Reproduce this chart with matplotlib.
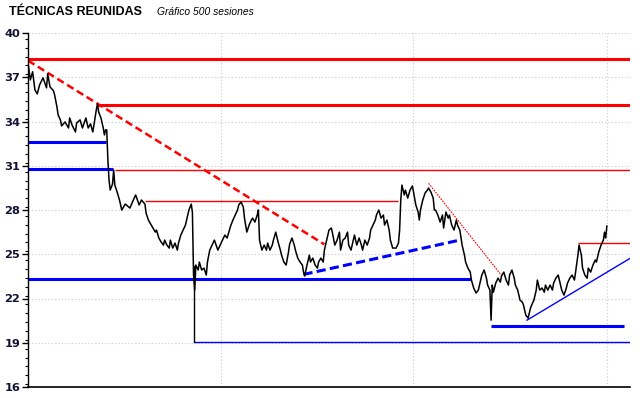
import matplotlib
matplotlib.use("Agg")
import matplotlib.pyplot as plt
from matplotlib.ticker import MultipleLocator

# ---- data (session index, closing price) ----
sessions = [0, 2, 4, 6, 8, 10, 13, 16, 17, 19, 22, 23, 25, 26, 28, 29, 32, 35, 36, 38,
            41, 42, 45, 47, 50, 52, 54, 56, 59, 60, 61, 63, 65, 66, 67, 68, 69, 70, 71, 73,
            74, 75, 77, 79, 81, 84, 85, 88, 91, 93, 96, 98, 101, 102, 104, 105, 108, 110, 111, 113,
            115, 117, 118, 120, 122, 123, 125, 127, 129, 130, 132, 134, 136, 137, 139, 141, 142, 143, 144, 145,
            147, 148, 150, 152, 154, 155, 157, 159, 161, 164, 166, 168, 170, 172, 174, 175, 177, 179, 181, 182,
            184, 186, 187, 189, 191, 193, 194, 196, 198, 199, 200, 202, 204, 206, 207, 209, 211, 212, 214, 216,
            218, 219, 221, 223, 225, 226, 228, 230, 231, 233, 235, 237, 238, 239, 241, 243, 244, 246, 248, 250,
            251, 253, 255, 256, 258, 260, 262, 263, 265, 267, 269, 270, 272, 274, 276, 277, 279, 281, 282, 284,
            286, 288, 289, 291, 293, 295, 296, 298, 300, 301, 303, 305, 307, 308, 310, 312, 313, 315, 318, 320,
            321, 322, 323, 325, 326, 328, 330, 332, 333, 335, 337, 338, 339, 341, 343, 345, 346, 348, 350, 351,
            352, 354, 356, 358, 359, 361, 363, 364, 366, 368, 370, 371, 373, 375, 377, 378, 380, 382, 383, 385,
            387, 389, 390, 392, 394, 396, 397, 399, 400, 401, 402, 404, 406, 408, 409, 411, 413, 415, 416, 418,
            420, 421, 423, 425, 427, 428, 430, 432, 434, 435, 437, 439, 440, 442, 444, 446, 447, 449, 451, 453,
            454, 456, 458, 459, 461, 463, 465, 466, 468, 470, 472, 473, 475, 476, 478, 479, 481, 483, 484, 486,
            488, 490, 491, 493, 495, 497, 498, 499, 500]
prices = [37.98, 36.82, 37.37, 36.14, 35.87, 36.48, 36.96, 36.28, 37.23, 36.35, 36.08, 35.80, 34.99, 34.45, 34.11, 33.70, 33.97, 33.56, 34.24, 33.77,
          33.29, 33.90, 34.11, 33.56, 34.24, 33.56, 33.84, 33.29, 34.79, 35.19, 34.65, 34.24, 33.56, 33.09, 33.43, 33.43, 31.39, 30.03, 29.35, 29.76,
          30.71, 29.69, 29.22, 28.68, 28.00, 28.40, 28.34, 28.13, 28.68, 29.02, 28.34, 28.68, 28.40, 27.79, 27.32, 27.18, 26.78, 26.50, 26.64, 26.10,
          25.83, 25.62, 25.96, 25.62, 25.42, 25.96, 25.42, 25.76, 25.28, 25.76, 26.30, 26.64, 26.98, 27.32, 28.00, 28.40, 27.86, 23.59, 22.57, 24.27,
          23.93, 24.47, 23.93, 24.06, 23.59, 24.47, 25.28, 25.62, 25.96, 25.28, 25.62, 25.96, 26.30, 26.10, 26.64, 26.91, 27.32, 27.66, 28.00, 28.34,
          28.54, 28.20, 27.45, 26.50, 26.98, 27.32, 27.45, 27.18, 27.66, 28.00, 25.96, 25.28, 25.62, 25.28, 25.76, 25.28, 25.62, 25.96, 26.50, 25.83,
          25.28, 24.94, 24.47, 24.27, 25.15, 25.69, 26.10, 25.62, 25.28, 24.74, 24.47, 24.27, 23.79, 23.52, 24.27, 24.94, 24.47, 24.74, 24.27, 24.06,
          24.47, 24.74, 24.47, 25.28, 25.96, 26.64, 26.78, 26.44, 25.62, 25.96, 26.50, 25.28, 25.96, 26.10, 26.50, 25.62, 25.28, 25.96, 26.30, 25.62,
          26.10, 25.62, 25.28, 25.96, 25.62, 26.10, 26.64, 26.98, 27.32, 27.66, 28.00, 27.45, 27.66, 26.98, 27.32, 26.64, 25.96, 25.42, 25.42, 25.76,
          26.64, 28.68, 29.69, 29.02, 29.35, 28.81, 29.35, 29.63, 29.22, 28.34, 27.86, 27.32, 28.00, 28.68, 29.15, 29.35, 29.49, 29.22, 28.81, 28.00,
          28.00, 27.66, 27.18, 27.66, 26.78, 27.86, 27.45, 27.66, 26.98, 26.64, 27.32, 26.98, 26.64, 25.62, 24.94, 24.47, 24.06, 23.79, 23.25, 22.71,
          22.37, 22.57, 22.91, 23.59, 23.93, 23.38, 22.91, 22.57, 20.53, 22.91, 22.43, 23.04, 23.38, 23.11, 23.52, 23.79, 23.25, 22.91, 23.59, 23.93,
          23.38, 22.91, 22.57, 21.89, 21.75, 21.55, 20.87, 20.67, 21.34, 21.55, 21.89, 22.57, 23.25, 22.57, 22.71, 22.43, 22.91, 22.57, 22.91, 22.57,
          23.04, 23.38, 23.59, 23.25, 22.57, 22.23, 22.71, 23.04, 23.38, 23.59, 23.25, 23.79, 24.94, 25.62, 24.94, 24.06, 23.59, 23.38, 24.06, 23.79,
          24.27, 24.61, 24.47, 25.15, 25.62, 25.96, 26.50, 26.10, 26.91]

yticks = [16, 19, 22, 25, 28, 31, 34, 37, 40]
title_text = "TÉCNICAS REUNIDAS"
subtitle_text = "Gráfico 500 sesiones"

# horizontal support / resistance levels: (level, start, end, colour, width)
x_end = 520
levels = [
    (38.25, 0, x_end, "#ff0000", 2.2),
    (35.13, 60, x_end, "#ff0000", 2.2),
    (32.63, 0, 67, "#0000ff", 2.2),
    (30.78, 0, 73, "#0000ff", 2.2),
    (30.70, 75, x_end, "#ff0000", 1.0),
    (28.60, 101, 320, "#ff0000", 1.0),
    (23.30, 0, 383, "#0000ff", 2.2),
    (19.08, 143, x_end, "#0000ff", 1.0),
    (20.12, 400, 515, "#0000ff", 2.2),
    (25.74, 475, x_end, "#ff0000", 1.0),
]
gap_marker = (143, 19.08, 24.2)
# trend lines: (x0, y0, x1, y1, colour, width, style)
trends = [
    (0, 38.13, 256, 25.67, "#ff0000", 1.8, (0, (3, 1.6))),
    (238, 23.63, 373, 25.96, "#0000ff", 2.2, (0, (3, 1.4))),
    (346, 29.81, 410, 23.47, "#ff0000", 0.8, (0, (1.5, 1))),
    (431, 20.53, 520, 24.72, "#0000ff", 1.0, "-"),
]
vgrid = [167, 332.5, 500]

fig = plt.figure(figsize=(6.4, 3.98), dpi=100)
ax = fig.add_axes([28 / 640, 1 - 387 / 398, (630 - 28) / 640, (387 - 33) / 398])

for y in yticks[1:]:
    ax.axhline(y, color="#c6c9d6", lw=0.8, ls=(0, (1, 2)), zorder=0)
for x in vgrid:
    ax.axvline(x, color="#c6c9d6", lw=0.8, ls=(0, (1, 2)), zorder=0)

for lvl, x0, x1, c, w in levels:
    ax.plot([x0, x1], [lvl, lvl], color=c, lw=w, solid_capstyle="butt", zorder=2)
ax.plot([gap_marker[0]] * 2, [gap_marker[1], gap_marker[2]], color="black", lw=1.0, zorder=3)
for x0, y0, x1, y1, c, w, ls in trends:
    ax.plot([x0, x1], [y0, y1], color=c, lw=w, ls=ls, zorder=2)

ax.plot(sessions, prices, color="black", lw=1.1, zorder=4)

ax.set_xlim(0, x_end)
ax.set_ylim(16, 40)
ax.set_yticks(yticks)
ax.yaxis.set_minor_locator(MultipleLocator(0.6))
ax.set_xticks([])
ax.tick_params(axis="y", which="major", length=4, width=1, labelsize=8.2, pad=1.5)
ax.tick_params(axis="y", which="minor", length=2.2, width=0.8)
for lab in ax.get_yticklabels():
    lab.set_fontweight("bold")
    lab.set_color("#111133")
ax.spines["top"].set_visible(False)
ax.spines["right"].set_visible(False)
ax.spines["left"].set_linewidth(1.0)
ax.spines["bottom"].set_linewidth(1.2)

fig.text(9 / 640, 1 - 12 / 398, title_text, fontsize=9, fontweight="bold",
         family="Liberation Sans", va="center", ha="left")
fig.text(157 / 640, 1 - 12 / 398, subtitle_text, fontsize=7.4, style="italic",
         family="Liberation Sans", va="center", ha="left")

fig.savefig("out.png", dpi=100)
